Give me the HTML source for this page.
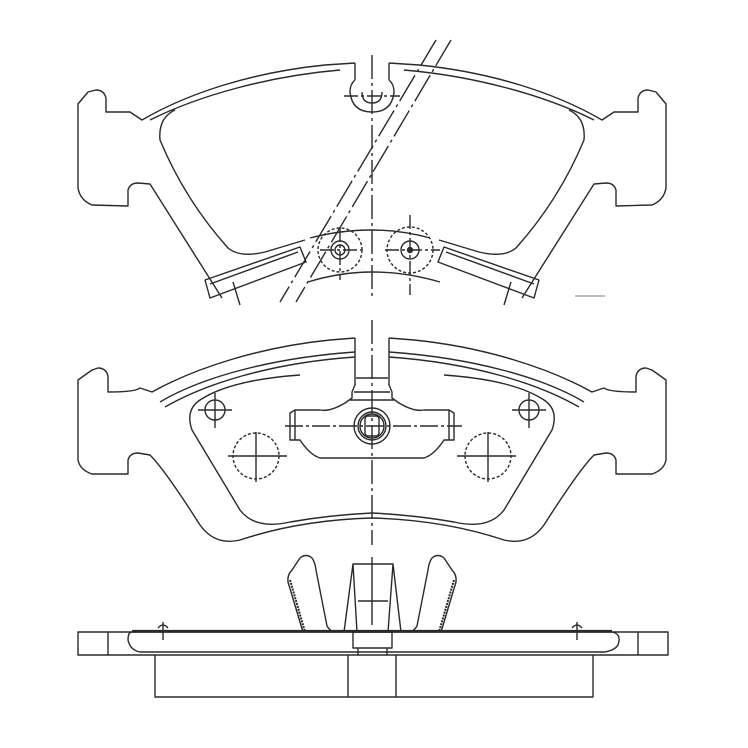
<!DOCTYPE html>
<html><head><meta charset="utf-8"><style>
html,body{margin:0;padding:0;background:#fff}
svg{display:block}
</style></head><body>
<svg width="748" height="748" viewBox="0 0 748 748" xmlns="http://www.w3.org/2000/svg" fill="none" stroke="#2a2a2a" stroke-width="1.4" stroke-linejoin="round">
<rect width="748" height="748" fill="#fff" stroke="none"/>

<!-- ===== TOP PAD ===== -->
<g id="halfTop">
  <path d="M355,63 L325,65 C255,72 190,92 142,120 L130,112 L106,112 L106,98 Q104,90 96,90 L88,92 L78,104 L78,188 Q80,200 92,205 L128,206 L128,190 Q130,183 138,183 L150,184 L222,298"/>
  <path d="M340,70 C270,76 200,95 150,120" />
  <path d="M175,110 Q158,118 160,140 Q185,200 228,248 Q240,258 265,252 L305,240"/>
  <path d="M355,63 L355,80"/>
  <path d="M205,280 L300,247 L306,262 L210,298 Z"/>
  <path d="M210,284 L298,252"/>
  <path d="M233,282 L240,305"/>
</g>
<use href="#halfTop" transform="translate(744,0) scale(-1,1)"/>
<path d="M355,80 Q350,84 350,92 Q352,112 372,112 Q392,112 394,92 Q394,84 389,80"/>
<path d="M362,92 Q362,103 372,103 Q382,103 382,92"/>
<path d="M344,96 H400" stroke-dasharray="14,3,3,3"/>
<path d="M310,238 Q372,222 430,238"/>
<path d="M308,282 Q372,262 440,282"/>
<!-- holes -->
<circle cx="340" cy="250" r="22" stroke-dasharray="3,2"/>
<circle cx="340" cy="250" r="9"/>
<circle cx="340" cy="250" r="5"/>
<circle cx="410" cy="250" r="23" stroke-dasharray="3,2"/>
<circle cx="410" cy="250" r="9"/>
<circle cx="410" cy="250" r="2.5" fill="#333"/>
<path d="M410,215 V295 M385,250 H440 M340,228 V280 M320,250 H362" stroke-dasharray="14,3,3,3"/>
<!-- centerline -->
<path d="M372,55 V300" stroke-dasharray="24,4,3,4"/>
<!-- break lines -->
<path d="M436,40 L280,302" stroke-dasharray="30,4,3,4"/>
<path d="M451,40 L296,302" stroke-dasharray="30,4,3,4"/>
<path d="M575,296 H605" stroke="#aaa"/>

<!-- ===== MIDDLE PAD ===== -->
<g id="halfMid">
  <path d="M355,338 L330,340 C260,347 195,368 152,392 L140,388 Q135,392 108,392 L108,376 Q106,368 98,368 L92,370 L78,380 L78,460 Q80,470 92,474 L128,474 L128,460 Q130,453 138,453 L150,455 Q165,470 200,525 Q215,546 240,540 Q300,520 372,518"/>
  <path d="M355,352 C270,358 200,378 160,402"/>
  <path d="M355,357 C270,363 205,384 165,407"/>
  <path d="M300,375 Q230,380 200,400 Q185,410 192,430 L240,510 Q255,530 290,522 Q330,515 372,513"/>
  <path d="M355,338 V385 L352,392 V398 L345,403 Q330,412 320,410 L295,410 L290,413 V440 L300,440 Q310,455 320,458 L372,458"/>
  <path d="M295,410 V440"/>
  <circle cx="215" cy="410" r="10"/>
  <path d="M215,393 V428 M198,410 H232"/>
  <circle cx="256" cy="456" r="23" stroke-dasharray="3,2"/>
  <path d="M256,432 V482 M228,456 H287"/>
</g>
<use href="#halfMid" transform="translate(744,0) scale(-1,1)"/>
<path d="M356,378 H388 M354,392 H390 M350,400 H394"/>
<circle cx="372" cy="426" r="18"/>
<circle cx="372" cy="426" r="14"/>
<circle cx="372" cy="426" r="12"/>
<rect x="365" y="416" width="14" height="20" rx="3"/>
<path d="M372,320 V545" stroke-dasharray="24,4,3,4"/>
<path d="M285,426 H462" stroke-dasharray="18,3,3,3"/>

<!-- ===== BOTTOM VIEW ===== -->
<rect x="78" y="632" width="590" height="23"/>
<path d="M108,632 V655 M638,632 V655"/>
<path d="M132,632 H612 Q622,634 618,645 Q615,650 605,652 H140 Q130,650 128,640 Q128,632 132,632" />
<path d="M132,631 H612" stroke-width="2.2"/>
<path d="M155,655 V697 H593 V655 M348,655 V697 M396,655 V697"/>
<path d="M353,632 H392 V648 H353 Z M358,648 V655 M387,648 V655"/>
<!-- wings -->
<g id="wing">
  <path d="M303,632 L288,582 Q287,575 292,570 L300,558 Q306,553 312,558 Q315,562 316,570 L327,626 Q330,631 333,631"/>
  <path d="M290,580 L305,632" stroke-dasharray="2,1" stroke-width="2"/>
</g>
<use href="#wing" transform="translate(744,0) scale(-1,1)"/>
<!-- center tab -->
<path d="M344,632 L353,564 H393 L401,632 M353,564 L357,632 M393,564 L388,632 M358,601 H388"/>
<path d="M372,557 V625"/>
<path d="M163,622 V640 M158,628 Q163,622 168,628 M577,622 V640 M572,628 Q577,622 582,628"/>
</svg>
</body></html>
